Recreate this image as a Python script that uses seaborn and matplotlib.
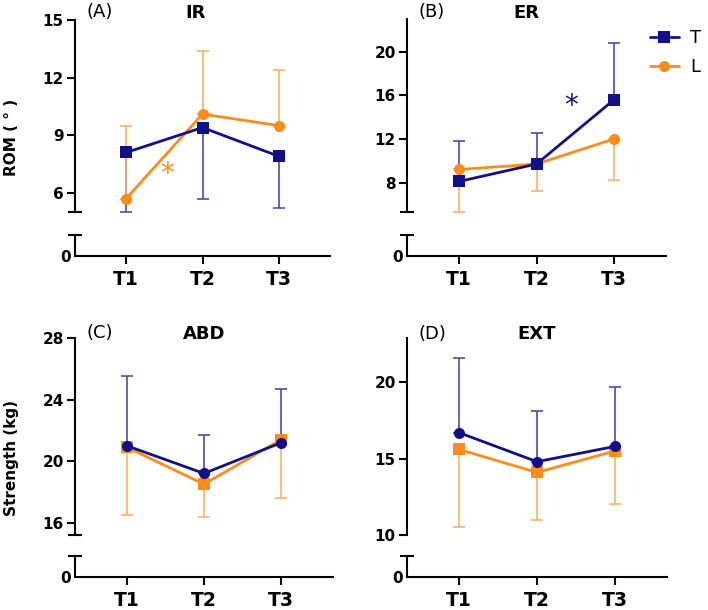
import numpy as np
import pandas as pd
import matplotlib
matplotlib.use('Agg')
from matplotlib import pyplot as plt
from matplotlib.lines import Line2D
import seaborn as sns

# time points
TIMES = ['T1', 'T2', 'T3']
XPOS = [1, 2, 3]

# (A) IR - ROM
ir_t = [8.1, 9.4, 7.9]
ir_t_bar = [5.0, 5.7, 5.2]      # error bar ends (downward)
ir_l = [5.7, 10.1, 9.5]
ir_l_bar = [9.5, 13.4, 12.4]    # upward

# (B) ER - ROM
er_t = [8.1, 9.7, 15.6]
er_t_bar = [11.8, 12.5, 20.8]
er_l = [9.2, 9.7, 12.0]
er_l_bar = [5.3, 7.2, 8.2]

# (C) ABD - strength
abd_t = [21.0, 19.2, 21.2]
abd_t_bar = [25.5, 21.7, 24.7]
abd_l = [20.9, 18.5, 21.4]
abd_l_bar = [16.5, 16.4, 17.6]

# (D) EXT - strength
ext_t = [16.7, 14.8, 15.8]
ext_t_bar = [21.6, 18.1, 19.7]
ext_l = [15.6, 14.1, 15.5]
ext_l_bar = [10.5, 11.0, 12.0]

NAVY = '#10108a'
ORANGE = '#ff8c1a'
NAVY_ERR = '#4a4ab0'
ORANGE_ERR = '#ffb060'

sns.set_theme(style='white')
plt.rcParams['font.family'] = ['DejaVu Sans']
plt.rcParams['text.color'] = 'black'
plt.rcParams['xtick.color'] = 'black'
plt.rcParams['ytick.color'] = 'black'
plt.rcParams['axes.labelcolor'] = 'black'

W, H = 708, 610
fig = plt.figure(figsize=(W / 100, H / 100), dpi=100)


def px_axes(x0, x1, ytop, ybot):
    return fig.add_axes([x0 / W, 1 - ybot / H, (x1 - x0) / W, (ybot - ytop) / H])


panels = [
    dict(t=ir_t, tb=ir_t_bar, l=ir_l, lb=ir_l_bar, ylim=(5, 15), ticks=[6, 9, 12, 15],
         mk={'T': 's', 'L': 'o'}, letter='(A)', title='IR',
         box=(75, 330, 20, 212, 235, 256), lpos=(87, 12), tpos=(196, 13),
         star=(1.54, 7.0, ORANGE)),
    dict(t=er_t, tb=er_t_bar, l=er_l, lb=er_l_bar, ylim=(5.3, 23), ticks=[8, 12, 16, 20],
         mk={'T': 's', 'L': 'o'}, letter='(B)', title='ER',
         box=(407, 666, 19, 212, 235, 256), lpos=(419, 12), tpos=(526, 13),
         star=(2.45, 15.0, NAVY)),
    dict(t=abd_t, tb=abd_t_bar, l=abd_l, lb=abd_l_bar, ylim=(15.2, 28), ticks=[16, 20, 24, 28],
         mk={'T': 'o', 'L': 's'}, letter='(C)', title='ABD',
         box=(75, 333, 338, 535, 556, 577), lpos=(87, 333), tpos=(204, 334),
         star=None),
    dict(t=ext_t, tb=ext_t_bar, l=ext_l, lb=ext_l_bar, ylim=(10, 22.9), ticks=[10, 15, 20],
         mk={'T': 'o', 'L': 's'}, letter='(D)', title='EXT',
         box=(407, 667, 338, 535, 556, 577), lpos=(419, 334), tpos=(537, 334),
         star=None),
]

for p in panels:
    x0, x1, yt, yb, lt, lb = p['box']
    ax = px_axes(x0, x1, yt, yb)
    axl = px_axes(x0, x1, lt, lb)

    df = pd.DataFrame({
        'x': XPOS * 2,
        'val': p['t'] + p['l'],
        'bar': p['tb'] + p['lb'],
        'group': ['T'] * 3 + ['L'] * 3,
    })

    # one-sided error bars
    for g, col in (('T', NAVY_ERR), ('L', ORANGE_ERR)):
        d = df[df['group'] == g]
        diff = d['bar'].values - d['val'].values
        lower = np.where(diff < 0, -diff, 0)
        upper = np.where(diff > 0, diff, 0)
        ax.errorbar(d['x'], d['val'], yerr=[lower, upper], fmt='none', ecolor=col,
                    elinewidth=1.2, capsize=4, capthick=1.2, zorder=1, clip_on=False)

    sns.lineplot(data=df, x='x', y='val', hue='group', style='group',
                 palette={'T': NAVY, 'L': ORANGE}, markers=p['mk'], dashes=False,
                 hue_order=['L', 'T'], markersize=8, markeredgewidth=0,
                 linewidth=2, legend=False, ax=ax, zorder=3, clip_on=False)

    for a in (ax, axl):
        a.set_xlim(0.33, 3.67)
        a.set_facecolor('none')
        a.set_xlabel('')
        a.set_ylabel('')
        for s in ('top', 'right'):
            a.spines[s].set_visible(False)
        a.spines['left'].set_color('black')
        a.spines['left'].set_linewidth(1.5)

    ax.spines['bottom'].set_visible(False)
    ax.set_ylim(*p['ylim'])
    ax.set_yticks(p['ticks'])
    ax.set_yticklabels([str(v) for v in p['ticks']], fontweight='bold', fontsize=11)
    ax.set_yticks([p['ylim'][0]], minor=True)
    ax.set_xticks([])
    ax.tick_params(axis='y', which='major', direction='out', length=6, width=1.5,
                   color='black', pad=2, left=True)
    ax.tick_params(axis='y', which='minor', direction='inout', length=10, width=1.5,
                   color='black', left=True)

    axl.set_ylim(0, 1)
    axl.set_yticks([0])
    axl.set_yticklabels(['0'], fontweight='bold', fontsize=11)
    axl.set_yticks([1], minor=True)
    axl.tick_params(axis='y', which='major', length=0, pad=3, left=True)
    axl.tick_params(axis='y', which='minor', direction='inout', length=10, width=1.5,
                    color='black', left=True)
    axl.spines['bottom'].set_color('black')
    axl.spines['bottom'].set_linewidth(1.5)
    axl.set_xticks(XPOS)
    axl.set_xticklabels(TIMES, fontweight='bold', fontsize=13.5)
    axl.tick_params(axis='x', direction='out', length=6, width=1.5, color='black',
                    pad=4, bottom=True)

    fig.text(p['lpos'][0] / W, 1 - p['lpos'][1] / H, p['letter'], fontsize=13,
             ha='left', va='center')
    fig.text(p['tpos'][0] / W, 1 - p['tpos'][1] / H, p['title'], fontsize=13,
             fontweight='bold', ha='center', va='center')

    if p['star'] is not None:
        sx, sy, sc = p['star']
        ax.text(sx, sy, '*', color=sc, fontsize=20, ha='center', va='center')

fig.text(12 / W, 1 - 137 / H, 'ROM ( ° )', rotation=90, fontsize=11,
         fontweight='bold', ha='center', va='center')
fig.text(12 / W, 1 - 458 / H, 'Strength (kg)', rotation=90, fontsize=11,
         fontweight='bold', ha='center', va='center')

handles = [Line2D([], [], color=NAVY, marker='s', markersize=8, markeredgewidth=0, lw=2),
           Line2D([], [], color=ORANGE, marker='o', markersize=8, markeredgewidth=0, lw=2)]
fig.legend(handles, ['T', 'L'], loc='upper left', bbox_to_anchor=(641 / W, 1 - 20 / H),
           frameon=False, fontsize=13, handlelength=1.6, handletextpad=0.6,
           labelspacing=0.6, borderpad=0)

fig.savefig('out.png', dpi=100)
